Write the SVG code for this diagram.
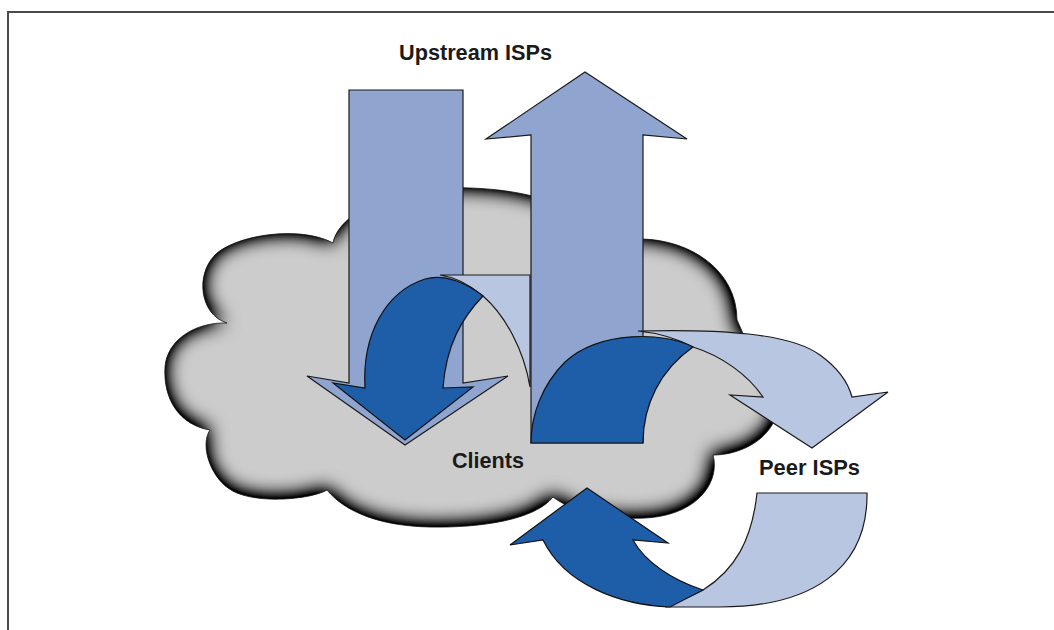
<svg xmlns="http://www.w3.org/2000/svg" width="1054" height="630" viewBox="0 0 1054 630">
  <defs>
    <filter id="innerShade" x="-10%" y="-10%" width="120%" height="120%" color-interpolation-filters="sRGB">
      <feGaussianBlur in="SourceAlpha" stdDeviation="10" result="b"/>
      <feOffset in="b" dx="-1" dy="-1.5" result="bo"/>
      <feColorMatrix in="bo" type="matrix" values="0 0 0 1.55 -0.75  0 0 0 1.55 -0.75  0 0 0 1.55 -0.75  0 0 0 0 1" result="c"/>
      <feComposite in="c" in2="SourceAlpha" operator="in"/>
    </filter>
    <style>
      .frame { fill: none; stroke: #4a4a4a; stroke-width: 2; }
      .cloud { fill: #cccccc; }
      .cloudEdge { fill: none; stroke: #111; stroke-width: 0.8; }
      .big { fill: #8fa5cf; stroke: #1a1a1a; stroke-width: 1.2; stroke-linejoin: miter; }
      .light { fill: #b8c6e2; stroke: #1a1a1a; stroke-width: 1.2; }
      .dark { fill: #1e5da8; stroke: #111; stroke-width: 1.2; }
      .label { font-family: "Liberation Sans", Arial, sans-serif; font-weight: bold; font-size: 22px; fill: #1a1a1a; }
    </style>
  </defs>

  <g id="frame">
    <path class="frame" d="M 8 630 L 8 12 L 1054 12"/>
  </g>

  <g id="node-clients">
    <path id="cloudShape" class="cloud" filter="url(#innerShade)" d="M 333 243 C 338 215 390 185 470 188 C 530 190 575 205 598 232 L 642 239 C 690 240 737 270 737 320 L 745 338 C 775 345 790 395 772 425 C 760 445 735 455 713 455 C 720 480 700 515 645 518 C 600 520 570 510 553 497 C 535 520 480 528 430 527 C 380 526 345 512 327 490 C 310 500 250 505 228 488 C 210 475 200 445 210 430 C 180 425 163 400 165 367 C 167 340 195 322 227 323 C 200 315 195 275 215 255 C 235 235 300 225 333 243 Z"/>
    <path class="cloudEdge" d="M 333 243 C 338 215 390 185 470 188 C 530 190 575 205 598 232 L 642 239 C 690 240 737 270 737 320 L 745 338 C 775 345 790 395 772 425 C 760 445 735 455 713 455 C 720 480 700 515 645 518 C 600 520 570 510 553 497 C 535 520 480 528 430 527 C 380 526 345 512 327 490 C 310 500 250 505 228 488 C 210 475 200 445 210 430 C 180 425 163 400 165 367 C 167 340 195 322 227 323 C 200 315 195 275 215 255 C 235 235 300 225 333 243 Z"/>
    <text class="label" x="452" y="468" textLength="72" lengthAdjust="spacingAndGlyphs">Clients</text>
  </g>

  <g id="connectors">
    <path id="arrow-down" class="big" d="M 349 90 L 463 90 L 463 383 L 508 376 L 405 445 L 307 376 L 349 383 Z"/>
    <path id="uturn-back" class="light" d="M 440 275 L 530 275 L 530 387 C 524 350 505 315 483 296 C 470 285 455 277 440 275 Z"/>
    <path id="uturn-front" class="dark" d="M 365 388 C 362 335 385 292 425 279 C 445 273 468 284 483 296 C 462 318 446 345 443 388 L 473 387 L 405 440 L 333 383 Z"/>
    <path id="arrow-up" class="big" d="M 531 443 L 531 135 L 486 139 L 585 72 L 687 139 L 643 135 L 643 443 Z"/>
    <path id="to-peer-back" class="light" d="M 638 331 C 720 329 790 333 820 355 C 838 368 848 382 852 397 L 888 392 L 812 448 L 730 395 L 763 397 C 748 375 722 356 693 347 C 676 338 658 333 638 331 Z"/>
    <path id="to-peer-front" class="dark" d="M 531 443 L 643 443 C 643 405 660 370 693 347 C 665 332 600 330 565 362 C 542 385 531 415 531 443 Z"/>
    <path id="from-peer-back" class="light" d="M 757 493 L 867 493 C 868 570 810 607 720 607 L 665 607 C 680 601 692 596 703 590 C 735 570 752 540 757 493 Z"/>
    <path id="from-peer-front" class="dark" d="M 670 607 C 620 605 565 585 543 540 L 510 545 L 587 488 L 668 543 L 633 540 C 645 562 672 580 703 590 Z"/>
  </g>

  <g id="node-upstream">
    <text class="label" x="399" y="60" textLength="153" lengthAdjust="spacingAndGlyphs">Upstream ISPs</text>
  </g>

  <g id="node-peer">
    <text class="label" x="759" y="475" textLength="101" lengthAdjust="spacingAndGlyphs">Peer ISPs</text>
  </g>
</svg>
